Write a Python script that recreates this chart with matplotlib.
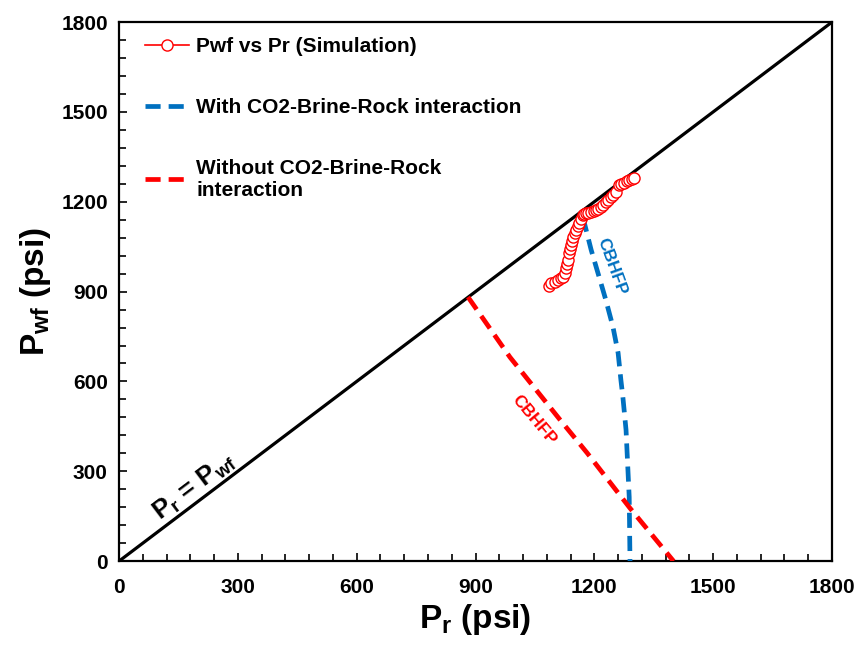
import matplotlib
matplotlib.use('Agg')
import matplotlib.pyplot as plt
from matplotlib.ticker import MultipleLocator

plt.rcParams['font.family'] = ['Liberation Sans', 'DejaVu Sans']
plt.rcParams['font.weight'] = 'bold'
plt.rcParams['mathtext.fontset'] = 'custom'
plt.rcParams['mathtext.rm'] = 'Liberation Sans:bold'
plt.rcParams['mathtext.it'] = 'Liberation Sans:bold'
plt.rcParams['mathtext.bf'] = 'Liberation Sans:bold'

# simulated Pwf vs Pr (psi)
sim_pr = [1085, 1091, 1100, 1108, 1115, 1121, 1125, 1128, 1131, 1134, 1136, 1139, 1141,
          1144, 1146, 1150, 1154, 1158, 1161, 1166, 1171, 1175, 1179, 1185, 1192,
          1198, 1204, 1210, 1217, 1223, 1229, 1235, 1242, 1248, 1255, 1262, 1268,
          1275, 1282, 1288, 1294, 1300]
sim_pwf = [918, 928, 933, 939, 944, 949, 962, 979, 992, 1005, 1029, 1042, 1055,
           1068, 1082, 1094, 1106, 1118, 1129, 1143, 1156, 1159, 1162, 1164, 1166,
           1169, 1172, 1177, 1182, 1190, 1199, 1207, 1216, 1224, 1232, 1256, 1259,
           1263, 1268, 1273, 1276, 1279]

# CBHFP with CO2-brine-rock interaction
with_pr = [1171, 1192, 1212, 1229, 1247, 1260, 1267, 1272, 1280, 1288, 1290]
with_pwf = [1149, 1039, 949, 872, 782, 695, 605, 548, 438, 214, 0]

# CBHFP without interaction
without_pr = [881, 987, 1114, 1182, 1290, 1400]
without_pwf = [882, 681, 471, 361, 177, 0]

diag = [0, 1800]

fig = plt.figure(figsize=(8.56, 6.48), dpi=100)
ax = fig.add_axes([0.139, 0.134, 0.833, 0.832])

ax.plot(diag, diag, color='black', lw=2.3, zorder=2)
ax.plot(sim_pr, sim_pwf, '-o', color='#FF0000', lw=1.2, ms=8, mfc='white',
        mec='#FF0000', mew=1.0, label='Pwf vs Pr (Simulation)', zorder=4)
ax.plot(with_pr, with_pwf, '--', color='#0070C0', lw=3.4, dashes=(3.2, 1.7),
        label='With CO2-Brine-Rock interaction', zorder=3)
ax.plot(without_pr, without_pwf, '--', color='#FF0000', lw=3.4, dashes=(3.2, 1.7),
        label='Without CO2-Brine-Rock\ninteraction', zorder=3)

ax.text(189, 247, r'$P_r$ = $P_{wf}$', rotation=37, fontsize=19,
        ha='center', va='center', fontweight='bold')
ax.text(1244, 985, 'CBHFP', rotation=-70, fontsize=12.5, color='#0070C0',
        ha='center', va='center')
ax.text(1048, 471, 'CBHFP', rotation=-50, fontsize=12.5, color='#FF0000',
        ha='center', va='center')

ax.set_xlim(0, 1800)
ax.set_ylim(0, 1800)
ax.xaxis.set_major_locator(MultipleLocator(300))
ax.yaxis.set_major_locator(MultipleLocator(300))
ax.xaxis.set_minor_locator(MultipleLocator(60))
ax.yaxis.set_minor_locator(MultipleLocator(60))
ax.tick_params(which='both', direction='in', top=False, right=False,
               labelsize=15, width=1.2)
ax.tick_params(which='major', length=6)
ax.tick_params(which='minor', length=5)
ax.tick_params(axis='x', which='major', pad=12)
ax.tick_params(axis='y', which='major', pad=8)
for s in ax.spines.values():
    s.set_linewidth(1.6)

ax.set_xlabel(r'$P_r$ (psi)', fontsize=24, fontweight='bold', labelpad=4)
ax.set_ylabel(r'$P_{wf}$ (psi)', fontsize=24, fontweight='bold', labelpad=6)

ax.legend(loc='upper left', bbox_to_anchor=(0.028, 0.983), frameon=False,
          fontsize=15, labelspacing=2.0, handlelength=2.1, handletextpad=0.35,
          borderaxespad=0, borderpad=0.3)

fig.savefig('out.png', dpi=100)
